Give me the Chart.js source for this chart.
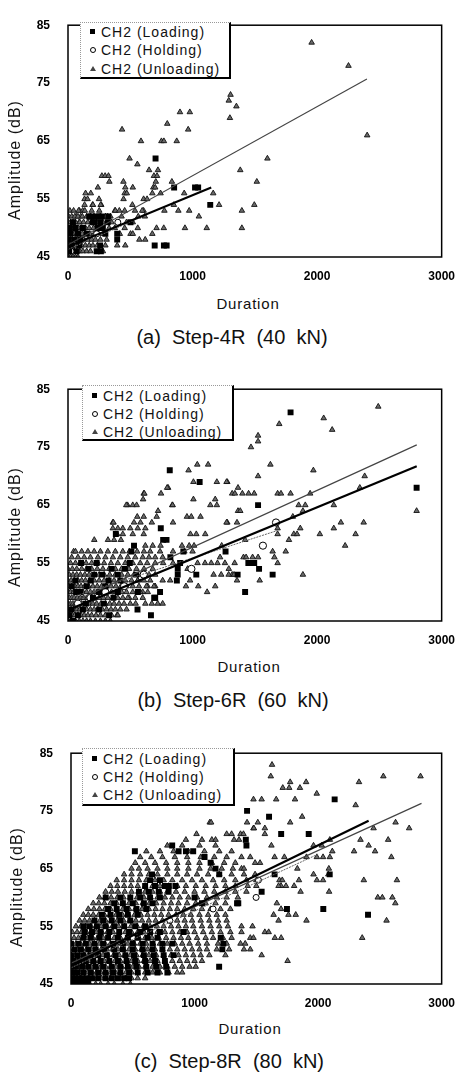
<!DOCTYPE html>
<html>
<head>
<meta charset="utf-8">
<script src="https://cdn.jsdelivr.net/npm/chart.js@4.4.1/dist/chart.umd.min.js"></script>
<style>
body { margin: 0; width: 467px; height: 1072px; background: #fff; position: relative; overflow: hidden;
       font-family: "Liberation Sans", Arial, sans-serif; color: #111; }
canvas { position: absolute; left: 0; }
.legend { position: absolute; background: #fff; box-sizing: border-box;
          border-left: 1px dotted #999; border-top: 1px dotted #999;
          border-right: 2px solid #000; border-bottom: 2px solid #000; }
.legend .row { position: absolute; left: 20px; height: 18px; line-height: 18px; font-size: 14px;
               letter-spacing: 1px; white-space: nowrap; }
.mk { position: absolute; left: -11px; top: 6px; width: 5px; height: 5px; box-sizing: border-box; }
.mk.sq { background: #000; }
.mk.ci { border: 1px solid #000; border-radius: 50%; width: 6px; height: 6px; }
.mk.tr { width: 0; height: 0; border-left: 3px solid transparent; border-right: 3px solid transparent;
         border-bottom: 5px solid #444; }
.ytitle { position: absolute; font-size: 16px; letter-spacing: 1px; white-space: nowrap;
          transform: translate(-50%, -50%) rotate(-90deg); }
.xtitle { position: absolute; font-size: 15px; letter-spacing: 0.8px; white-space: pre;
          transform: translate(-50%, -50%); }
.caption { position: absolute; font-size: 20px; white-space: pre; transform: translate(-50%, -50%); }
</style>
</head>
<body>
<canvas id="chartA" width="467" height="290" style="top:0px"></canvas>
<canvas id="chartB" width="467" height="290" style="top:364px"></canvas>
<canvas id="chartC" width="467" height="289" style="top:728px"></canvas>

<div class="legend" style="left:80px;top:22px;width:151px;height:57px">
  <div class="row" style="top:0px"><span class="mk sq"></span>CH2 (Loading)</div>
  <div class="row" style="top:18px"><span class="mk ci"></span>CH2 (Holding)</div>
  <div class="row" style="top:37px"><span class="mk tr"></span>CH2 (Unloading)</div>
</div>
<div class="legend" style="left:82px;top:385px;width:152px;height:56px">
  <div class="row" style="top:1px"><span class="mk sq"></span>CH2 (Loading)</div>
  <div class="row" style="top:19px"><span class="mk ci"></span>CH2 (Holding)</div>
  <div class="row" style="top:37px"><span class="mk tr"></span>CH2 (Unloading)</div>
</div>
<div class="legend" style="left:82px;top:748px;width:153px;height:58px">
  <div class="row" style="top:1px"><span class="mk sq"></span>CH2 (Loading)</div>
  <div class="row" style="top:19px"><span class="mk ci"></span>CH2 (Holding)</div>
  <div class="row" style="top:37px"><span class="mk tr"></span>CH2 (Unloading)</div>
</div>

<div class="ytitle" style="left:15px;top:160px">Amplitude (dB)</div>
<div class="ytitle" style="left:15px;top:527px">Amplitude (dB)</div>
<div class="ytitle" style="left:17px;top:887px">Amplitude (dB)</div>
<div class="xtitle" style="left:248px;top:303px">Duration</div>
<div class="xtitle" style="left:249px;top:666px">Duration</div>
<div class="xtitle" style="left:250px;top:1028px">Duration</div>
<div class="caption" style="left:232px;top:337px">(a)  Step-4R  (40  kN)</div>
<div class="caption" style="left:233px;top:700px">(b)  Step-6R  (60  kN)</div>
<div class="caption" style="left:229px;top:1061px">(c)  Step-8R  (80  kN)</div>

<script>
const xTicks = [0, 1000, 2000, 3000];
const yTicks = [45, 55, 65, 75, 85];

// ---- (a) Step-4R (40 kN) ----  [duration, amplitude]
const loadA = [[703,62],[852,57],[1020,57],[1045,57],[1142,54],[696,47],[770,47],[792,47],[502,51],[395,49],[395,48],
  [264,46],[225,52],[250,52],[272,52],[199,51],[259,51],[324,52],[319,51],[10,46],[30,47],[50,48],[20,49],[60,50],
  [40,51],[80,49],[100,48],[120,50],[150,49],[170,52],[240,50],[280,50],[300,49],[258,47],[230,46],[5,48],[15,50],
  [70,46],[90,47],[185,52],[210,51]];
const holdA = [[25,46],[110,48],[230,49],[400,51]];
const unloadA = [[1956,82],[2252,78],[2402,66],[1601,62],[1383,60],[1516,58],[1496,54],[1396,53],[1396,50],[1305,73],
  [1291,72],[1352,71],[1300,69],[899,70],[978,70],[797,68],[965,67],[434,67],[586,65],[750,65],[770,65],[873,65],
  [494,62],[557,61],[651,60],[722,60],[690,59],[715,59],[705,58],[685,57],[700,57],[272,59],[298,59],[325,59],[332,58],
  [445,58],[834,58],[240,57],[460,57],[520,57],[455,56],[677,56],[743,56],[1166,56],[1213,54],[933,56],[850,54],
  [886,53],[973,53],[1051,52],[607,53],[607,55],[635,55],[774,53],[939,50],[1114,50],[769,50],[711,50],[677,49],
  [502,49],[520,49],[573,48],[460,47],[395,47],[416,49],[376,50],[455,50],[403,51],[376,53],[455,53],[319,52],[251,53],
  [141,56],[183,56],[133,55],[157,55],[197,54],[249,55],[133,54],[200,54],[267,54],[102,52],[180,52],[259,52],[89,51],
  [446,55],[472,56],[517,54],[538,53],[596,53],[381,53],[412,53],[302,52],[341,52],[564,52],[617,52],[66,52],[92,53],
  [118,53],[262,54],[430,52],[470,51],[350,51],[520,51],[560,50],[620,48]];
// dense part near the origin, one row per dB: [amplitude, durations]
const unloadRowsA = [
  [45, [5,20,40,60,80]],
  [46, [0,15,30,50,70,95,120,150,180,250,280]],
  [47, [0,10,25,45,65,90,110,140,170,200,235,300]],
  [48, [5,20,35,55,75,100,130,160,190,220,260,310]],
  [49, [0,15,30,50,70,90,115,145,175,210,245,290]],
  [50, [10,25,45,65,85,110,140,170,205,235,270,330]],
  [51, [0,20,40,60,95,125,160,190,230,280]],
  [52, [5,30,55,80,115,150,210,300]],
  [53, [15,45,85,135,190]]
];
const fitLoadA = [[0,46.8],[1150,57.0]];
const fitUnloadA = [[0,47.1],[2400,75.7]];
const fitHoldA = [[0,46.3],[600,52.0]];

// ---- (b) Step-6R (60 kN) ----
const loadB = [[817,71],[1057,69],[1787,81],[1526,65],[2799,68],[1448,55],[1470,55],[1495,55],[1534,54],[1643,53],
  [1362,53],[1422,50],[745,61],[791,59],[764,59],[926,57],[1265,57],[509,57],[530,58],[384,60],[105,55],[230,55],
  [164,54],[274,53],[183,52],[326,52],[249,50],[365,49],[287,48],[144,48],[26,47],[65,50],[399,53],[457,54],[496,55],
  [548,53],[822,56],[900,55],[881,54],[881,53],[874,52],[1030,53],[561,50],[739,50],[700,49],[692,49],[666,46],
  [558,47],[400,50],[10,46],[40,45],[80,46],[120,47],[200,49],[300,51],[350,54],[420,52],[60,52],[30,51],[100,50],
  [150,51],[210,53],[250,47],[330,46]];
const holdB = [[1670,62],[1565,58],[991,54],[608,53],[300,50],[180,49],[450,51],[80,48]];
const unloadB = [[2491,82],[2053,80],[2121,78],[1696,79],[1526,77],[1526,76],[1469,75],[1625,72],[1970,71],[1526,70],
  [2382,70],[2343,68],[1365,68],[1318,67],[1340,67],[1400,67],[1450,67],[1495,67],[1683,67],[1710,67],[1787,67],
  [1944,67],[1279,69],[1365,64],[1383,64],[1852,65],[1905,65],[1886,64],[2134,65],[1805,63],[2191,62],[2374,62],
  [1279,62],[1357,62],[1865,61],[1813,60],[1839,60],[2022,60],[2134,61],[2309,60],[1683,61],[1683,60],[1774,59],
  [2225,58],[1748,57],[1643,57],[1657,56],[1683,55],[1409,56],[1526,56],[1291,54],[1318,53],[1357,52],[1539,52],
  [1886,53],[1422,59],[2799,64],[1038,72],[1125,72],[968,71],[1007,69],[1195,69],[1273,69],[804,68],[796,68],[608,67],
  [613,67],[747,67],[603,66],[1182,66],[1007,66],[478,65],[468,65],[520,65],[551,65],[837,65],[840,65],[1143,65],
  [1195,65],[723,64],[556,63],[608,63],[712,63],[955,63],[990,63],[1064,63],[360,62],[365,62],[530,62],[582,62],
  [673,62],[843,62],[1273,62],[360,61],[400,61],[440,61],[500,61],[560,61],[621,61],[394,60],[440,60],[520,60],
  [608,60],[983,60],[1030,60],[1102,60],[321,59],[370,59],[425,59],[211,59],[621,58],[680,58],[743,58],[915,58],
  [973,58],[1012,58],[1234,58],[660,57],[739,57],[843,57],[934,57],[1000,57],[1430,56],[1482,56],[1221,56],[600,56],
  [650,56],[700,56],[760,56],[843,55],[1040,55],[1100,55],[1150,55],[1200,55],[1260,55],[1338,55],[636,55],[700,55],
  [764,55],[960,54],[1169,53],[1230,53],[1290,53],[1333,53],[700,53],[760,52],[820,52],[947,51],[1046,51],[1117,50],
  [1182,51],[980,52],[491,49],[543,48],[394,46],[621,48],[673,48],[720,48],[760,48],[600,50],[640,51],[700,51],[560,52]];
const unloadRowsB = [
  [45, [0,20,40,60,90,120,150,180,220,260,300,340]],
  [46, [0,15,35,55,80,105,130,160,190,225,260,300,350,400]],
  [47, [5,25,45,70,95,120,150,180,210,240,275,310,345,380,420,470]],
  [48, [0,20,40,60,85,110,140,170,200,230,265,300,335,370,410,450,500]],
  [49, [10,30,50,75,100,125,155,185,215,250,285,320,360,400,440,480,540,600]],
  [50, [0,20,45,70,95,120,150,180,210,245,280,315,350,390,430,470,520,580,640]],
  [51, [5,30,55,80,105,135,165,200,235,270,305,345,385,425,470,520,570,630,690]],
  [52, [0,25,50,80,110,140,175,210,250,290,330,370,415,460,510,560,610,660]],
  [53, [10,40,70,100,135,170,210,250,290,335,380,430,480,530,590,650]],
  [54, [0,35,70,110,150,190,235,280,330,380,430,490,550,610,680]],
  [55, [20,60,100,145,190,240,290,345,400,460,520,580]],
  [56, [30,80,130,180,240,300,360,420,480,540]],
  [57, [45,60,110,160,210,260,320,380,440,493,555,610]]
];
const fitLoadB = [[0,46.9],[2800,71.7]];
const fitUnloadB = [[0,47.9],[2800,75.4]];
const fitHoldB = [[0,48.9],[1680,60.6]];

// ---- (c) Step-8R (80 kN) ----
const loadC = [[2134,77],[1425,75],[1603,74],[1701,71],[1924,71],[1420,69],[1415,70],[2094,64],[1648,64],[1543,61],
  [1354,59],[1748,58],[2042,58],[2404,57],[819,69],[517,68],[871,68],[930,68],[989,68],[1081,67],[1130,66],[1170,65],
  [1200,64],[792,62],[845,62],[656,64],[281,60],[1344,59],[911,54],[1212,53],[1233,52],[1225,51],[1199,48],[1000,60],
  [1060,59]];
const loadRowsC = [
  [45, [0,20,50,80,110,140]],
  [46, [0,30,60,90,130,170,220,280,330,380,430,470]],
  [47, [10,50,100,160,220,280,340,400,470,540,620,700,780]],
  [48, [0,40,90,140,200,260,330,400,460,530,610,690,770]],
  [49, [20,70,120,180,240,310,380,450,520,600,680,760]],
  [50, [0,50,100,160,220,290,360,440,510,590,670,750,830]],
  [51, [30,80,140,200,270,350,420,500,580,660,740]],
  [52, [0,60,120,190,260,340,420,500,580,660,740,820]],
  [53, [100,160,230,300,380,460,540,620,700]],
  [54, [110,170,240,310,390,470,560,640,720]],
  [55, [100,150,210,280,350,430,520,600]],
  [56, [190,260,330,400,480]],
  [57, [250,320,390,460,540]],
  [58, [300,370,450,530,610]],
  [59, [350,420,500,590,660]],
  [60, [400,480,560,640,720]],
  [61, [550,630,710,790]],
  [62, [600,680,760]],
  [63, [640,720]]
];
const holdC = [[1517,63],[1498,60],[1150,58],[800,56],[500,53]];
const unloadC = [[1627,83],[1617,81],[1294,81],[2528,81],[2829,81],[2331,80],[1903,80],[1774,80],[1714,79],[1766,79],
  [1853,79],[1989,78],[1477,77],[1543,77],[1661,77],[1813,77],[2304,76],[1871,74],[1425,73],[1512,73],[1774,73],
  [2627,73],[2737,72],[1477,72],[1569,72],[2449,72],[1372,71],[1569,71],[1622,69],[1963,69],[2030,69],[2095,70],
  [2343,70],[2567,70],[2409,69],[2291,68],[2461,68],[2593,67],[2115,68],[1451,67],[1490,66],[1530,66],[1648,67],
  [1727,67],[1906,67],[1990,67],[2040,67],[2095,67],[1380,65],[1832,65],[2087,65],[1963,64],[1990,63],[2040,63],
  [2083,64],[2370,63],[2638,63],[1687,63],[1710,63],[1740,62],[1700,62],[1680,62],[1806,62],[1845,63],[1858,61],
  [2089,61],[2483,60],[2520,60],[2601,60],[2625,59],[1666,59],[1640,57],[1680,56],[1700,58],[1760,57],[1819,57],
  [1906,56],[2554,56],[2357,53],[1543,50],[1753,49],[1569,54],[1600,54],[1650,53],[1701,53],[1451,53],[1477,53],
  [1372,52],[1410,52],[1400,51],[1451,51],[1380,55],[1469,55],[1380,54]];
const unloadRowsC = [
  [45, [90,150,200,240,300,350,420,480]],
  [46, [0,25,50,80,110,140,175,210,245,280,320,360,400,440,490,540,600]],
  [47, [10,40,70,100,135,170,205,240,280,320,360,400,445,490,540,600,660,720,790,860,900]],
  [48, [0,30,60,95,130,165,200,240,280,320,365,410,455,500,550,600,660,720,780,840,900,960,1010]],
  [49, [15,45,80,115,150,190,230,270,310,355,400,445,490,540,590,640,700,760,820,880,940,1000,1060]],
  [50, [0,35,70,105,140,180,220,260,300,345,390,435,480,530,580,630,690,750,810,870,930,990,1050,1120,1250]],
  [51, [20,55,90,125,165,205,245,290,335,380,425,470,520,570,620,680,740,800,860,920,980,1040,1100,1180,1280]],
  [52, [5,40,75,110,150,190,230,275,320,365,410,460,510,560,610,665,720,780,840,900,960,1030,1100,1190,1260]],
  [53, [25,60,95,135,175,215,260,305,350,400,450,500,550,600,655,710,770,830,890,950,1020,1090,1150,1230,1300]],
  [54, [10,50,85,125,165,205,250,295,340,390,440,490,540,590,645,700,760,820,880,940,1000,1070,1140,1210,1290]],
  [55, [40,80,120,160,200,245,290,335,385,435,485,535,585,640,695,750,810,870,930,990,1060,1130,1200,1270]],
  [56, [70,110,150,190,235,280,325,375,425,475,525,575,630,685,740,800,860,920,980,1050,1120,1190,1260]],
  [57, [100,140,180,225,270,315,365,415,465,515,565,620,675,730,790,850,910,970,1040,1110,1180,1250]],
  [58, [140,185,230,275,320,370,420,470,520,575,630,685,740,800,860,920,990,1060,1130,1210,1290]],
  [59, [180,225,270,320,370,420,470,525,580,635,690,750,810,870,940,1010,1090,1170,1250]],
  [60, [230,275,325,375,425,480,535,590,645,700,760,820,880,950,1020,1100,1180,1260,1350]],
  [61, [280,330,380,435,490,545,600,660,720,780,850,920,1000,1080,1160,1250,1330,1420]],
  [62, [320,375,430,485,540,600,660,720,790,860,930,1010,1090,1170,1250,1330,1430,1500]],
  [63, [370,430,490,550,610,680,750,820,900,980,1060,1150,1240,1330,1420,1500]],
  [64, [430,490,560,630,700,780,860,940,1020,1110,1200,1300,1400,1490]],
  [65, [490,550,620,700,780,860,950,1040,1130,1220,1310,1400]],
  [66, [520,600,680,770,860,950,1040,1140,1240,1330]],
  [67, [560,650,740,840,940,1050,1160,1260,1380]],
  [68, [610,720,830,950,1080,1200,1300]],
  [69, [780,900,1040,1170]],
  [70, [930,1060,1140,1170,1320,1360]],
  [71, [1016,1260,1300,1396]],
  [72, [1480]],
  [73, [1123,1134]]
];
const fitLoadC = [[0,48.2],[2409,73.3]];
const fitUnloadC = [[0,48.6],[2837,76.3]];
const fitHoldC = [[0,47.8],[2000,67.5]];

function pts(list) {
  return list.map(p => ({ x: p[0], y: p[1] }));
}
function rowPts(rows) {
  const out = [];
  rows.forEach(r => r[1].forEach(d => out.push({ x: d, y: r[0] })));
  return out;
}

const frame = {
  id: 'frame',
  afterDatasetsDraw(chart) {
    const a = chart.chartArea, ctx = chart.ctx;
    ctx.save();
    ctx.strokeStyle = '#000';
    ctx.lineWidth = 1.5;
    ctx.strokeRect(a.left, a.top, a.right - a.left, a.bottom - a.top);
    ctx.restore();
  }
};

const tickFont = { family: 'Liberation Sans', size: 12, weight: 'bold' };

function makeChart(id, s) {
  new Chart(document.getElementById(id), {
    type: 'scatter',
    data: {
      datasets: [
        { type: 'line', data: pts(s.fitLoad), borderColor: '#000', borderWidth: 2.2, pointRadius: 0, fill: false, order: 0 },
        { type: 'line', data: pts(s.fitUnload), borderColor: '#444', borderWidth: 1.2, pointRadius: 0, fill: false, order: 0 },
        { type: 'line', data: pts(s.fitHold), borderColor: '#666', borderWidth: 1, borderDash: [2, 1], pointRadius: 0, fill: false, order: 0 },
        { label: 'CH2 (Loading)', data: s.load, pointStyle: 'rect', pointRadius: 4.2,
          backgroundColor: '#000', borderColor: '#000', borderWidth: 0, order: 1 },
        { label: 'CH2 (Holding)', data: s.hold, pointStyle: 'circle', pointRadius: s.circleR,
          backgroundColor: '#fff', borderColor: '#000', borderWidth: 1, order: 2 },
        { label: 'CH2 (Unloading)', data: s.unload, pointStyle: 'triangle', pointRadius: 3.2,
          backgroundColor: '#6a6a6a', borderColor: '#111', borderWidth: 0.9, order: 3 }
      ]
    },
    options: {
      responsive: false,
      animation: false,
      events: [],
      layout: { padding: { top: 11, right: s.padRight, left: 0, bottom: 0 } },
      plugins: { legend: { display: false }, tooltip: { enabled: false } },
      scales: {
        x: {
          type: 'linear', min: 0, max: 3000,
          grid: { display: false, drawTicks: false }, border: { display: false },
          ticks: { padding: 12, color: '#000', font: tickFont, maxRotation: 0, callback: v => String(v) },
          afterBuildTicks: sc => { sc.ticks = xTicks.map(v => ({ value: v })); },
          afterFit: sc => { sc.height = 33; }
        },
        y: {
          type: 'linear', min: 45, max: 85,
          grid: { display: false, drawTicks: false }, border: { display: false },
          ticks: { padding: 18, color: '#000', font: tickFont, callback: v => String(v) },
          afterBuildTicks: sc => { sc.ticks = yTicks.map(v => ({ value: v })); },
          afterFit: sc => { sc.width = s.yWidth; }
        }
      }
    },
    plugins: [frame]
  });
}

makeChart('chartA', {
  load: pts(loadA), hold: pts(holdA), unload: pts(unloadA).concat(rowPts(unloadRowsA)),
  fitLoad: fitLoadA, fitUnload: fitUnloadA, fitHold: fitHoldA, circleR: 3, padRight: 16, yWidth: 68
});
makeChart('chartB', {
  load: pts(loadB), hold: pts(holdB), unload: pts(unloadB).concat(rowPts(unloadRowsB)),
  fitLoad: fitLoadB, fitUnload: fitUnloadB, fitHold: fitHoldB, circleR: 3.6, padRight: 15, yWidth: 68
});
makeChart('chartC', {
  load: pts(loadC).concat(rowPts(loadRowsC)), hold: pts(holdC), unload: pts(unloadC).concat(rowPts(unloadRowsC)),
  fitLoad: fitLoadC, fitUnload: fitUnloadC, fitHold: fitHoldC, circleR: 3, padRight: 15, yWidth: 71
});
</script>
</body>
</html>
